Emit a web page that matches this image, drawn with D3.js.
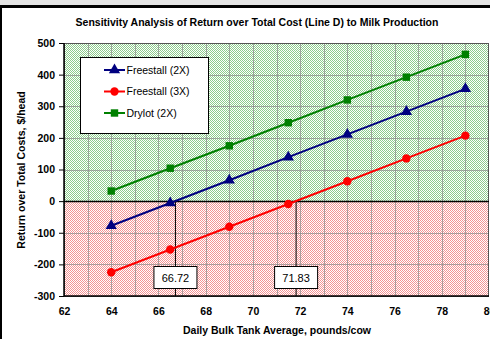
<!DOCTYPE html>
<html>
<head>
<meta charset="utf-8">
<script src="https://cdn.jsdelivr.net/npm/d3@7"></script>
<style>
  html, body { margin: 0; padding: 0; background: #fff; }
  svg { display: block; font-family: "Liberation Sans", Arial, sans-serif; }
</style>
</head>
<body>
<svg id="chart" width="490" height="339"></svg>
<script>
// Daily bulk tank average (lb/cow) at which each scenario was evaluated
const milkLevels = [64, 66.5, 69, 71.5, 74, 76.5, 79];

// Return over total cost ($/head) for each housing / milking scenario
const freestall2X = [-78, -6, 66, 139, 211, 283, 355];
const freestall3X = [-225, -153, -81, -9, 63, 135, 207];
const drylot2X = [32, 104, 175, 248, 320, 392, 464];

const seriesNames = ["Freestall (2X)", "Freestall (3X)", "Drylot (2X)"];

// Break-even milk levels (return = 0)
const breakEvens = [66.72, 71.83];

const xTicks = [62, 64, 66, 68, 70, 72, 74, 76, 78, 80];
const yTicks = [-300, -200, -100, 0, 100, 200, 300, 400, 500];

const title = "Sensitivity Analysis of Return over Total Cost (Line D) to Milk Production";
const xTitle = "Daily Bulk Tank Average, pounds/cow";
const yTitle = "Return over Total Costs, $/head";

const svg = d3.select("#chart");
const W = 490, H = 339;
const plot = { left: 64, right: 489, top: 43, bottom: 296 };

const x = d3.scaleLinear().domain([62, 80]).range([plot.left, plot.right]);
const y = d3.scaleLinear().domain([-300, 500]).range([plot.bottom, plot.top]);

// frame
svg.append("rect").attr("x", 0).attr("y", 0).attr("width", W).attr("height", 5).attr("fill", "#e3e3e3");
svg.append("rect").attr("x", 0).attr("y", 5).attr("width", W).attr("height", 3).attr("fill", "#000");
svg.append("rect").attr("x", 0).attr("y", 5).attr("width", 2).attr("height", H - 5).attr("fill", "#000");

// dotted fills for profit / loss zones
const defs = svg.append("defs");
function dots(id, color) {
  const p = defs.append("pattern").attr("id", id).attr("patternUnits", "userSpaceOnUse")
    .attr("width", 2).attr("height", 2);
  p.append("rect").attr("width", 2).attr("height", 2).attr("fill", "#fff");
  p.append("rect").attr("x", 0).attr("y", 0).attr("width", 1).attr("height", 1).attr("fill", color);
  p.append("rect").attr("x", 1).attr("y", 1).attr("width", 1).attr("height", 1).attr("fill", color);
}
dots("gain", "#8ccc8c");
dots("loss", "#f49494");

svg.append("rect").attr("x", plot.left).attr("y", y(500))
  .attr("width", plot.right - plot.left).attr("height", y(0) - y(500)).attr("fill", "url(#gain)");
svg.append("rect").attr("x", plot.left).attr("y", y(0))
  .attr("width", plot.right - plot.left).attr("height", y(-300) - y(0)).attr("fill", "url(#loss)");

// gridlines
const grid = svg.append("g").attr("stroke", "#8a8a8a").attr("stroke-opacity", 0.7).attr("stroke-width", 1);
d3.range(63, 80, 1).forEach(v => {
  grid.append("line").attr("x1", Math.round(x(v)) + 0.5).attr("x2", Math.round(x(v)) + 0.5)
    .attr("y1", plot.top).attr("y2", plot.bottom);
});
yTicks.slice(1, -1).forEach(v => {
  grid.append("line").attr("y1", Math.round(y(v)) + 0.5).attr("y2", Math.round(y(v)) + 0.5)
    .attr("x1", plot.left).attr("x2", plot.right);
});

// plot border
svg.append("rect").attr("x", plot.left + 0.5).attr("y", plot.top + 0.5)
  .attr("width", plot.right - plot.left - 1).attr("height", plot.bottom - plot.top)
  .attr("fill", "none").attr("stroke", "#555").attr("stroke-width", 1);

// zero line
svg.append("line").attr("x1", plot.left).attr("x2", plot.right)
  .attr("y1", Math.round(y(0)) + 0.5).attr("y2", Math.round(y(0)) + 0.5)
  .attr("stroke", "#000").attr("stroke-width", 1.5);

// break-even drop lines
breakEvens.forEach(v => {
  svg.append("line").attr("x1", x(v)).attr("x2", x(v)).attr("y1", y(0)).attr("y2", plot.bottom)
    .attr("stroke", "#000").attr("stroke-width", 1);
});

// axes
const yAxis = d3.axisLeft(y).tickValues(yTicks).tickFormat(d => String(d)).tickSize(5).tickPadding(4);
const xAxis = d3.axisBottom(x).tickValues(xTicks).tickFormat(d => String(d)).tickSize(4).tickPadding(8);
const gy = svg.append("g").attr("transform", `translate(${plot.left},0)`).call(yAxis);
const gx = svg.append("g").attr("transform", `translate(0,${plot.bottom})`).call(xAxis);
[gx, gy].forEach(g => {
  g.select(".domain").attr("stroke", "#000").attr("stroke-width", 1.5);
  g.selectAll(".tick line").attr("stroke", "#000");
  g.selectAll("text").attr("font-family", "Liberation Sans, Arial, sans-serif")
    .attr("font-size", 10.5).attr("font-weight", "bold").attr("fill", "#000");
});
gx.selectAll(".tick line").remove();
gx.select(".domain").attr("d", `M${plot.left},0H${plot.right}`);
gy.select(".domain").attr("d", `M0,${plot.bottom}V${plot.top}`);

// series
const series = [
  { name: seriesNames[0], values: freestall2X, color: "#000080", shape: d3.symbolTriangle, size: 55 },
  { name: seriesNames[1], values: freestall3X, color: "#ff0000", shape: d3.symbolCircle, size: 55 },
  { name: seriesNames[2], values: drylot2X, color: "#008000", shape: d3.symbolSquare, size: 55 }
];
const line = d3.line().x(d => x(d[0])).y(d => y(d[1]));
series.forEach(s => {
  const pts = milkLevels.map((m, i) => [m, s.values[i]]);
  svg.append("path").datum(pts).attr("d", line).attr("fill", "none")
    .attr("stroke", s.color).attr("stroke-width", 2);
  svg.append("g").selectAll("path").data(pts).join("path")
    .attr("d", d3.symbol(s.shape, s.size))
    .attr("transform", d => `translate(${x(d[0])},${y(d[1])})`)
    .attr("fill", s.color);
});

// break-even labels
breakEvens.forEach(v => {
  const cx = x(v), cy = 277;
  svg.append("rect").attr("x", cx - 21.5).attr("y", cy - 10.5).attr("width", 43).attr("height", 22)
    .attr("fill", "#fff").attr("stroke", "#000").attr("stroke-width", 1);
  svg.append("text").attr("x", cx).attr("y", cy + 4.5).attr("text-anchor", "middle")
    .attr("font-size", 11).attr("fill", "#000").text(v.toFixed(2));
});

// legend
const lg = svg.append("g");
lg.append("rect").attr("x", 80.5).attr("y", 57.5).attr("width", 128).attr("height", 76)
  .attr("fill", "#fff").attr("stroke", "#000").attr("stroke-width", 1);
series.forEach((s, i) => {
  const ly = 70 + i * 21.5;
  lg.append("line").attr("x1", 104).attr("x2", 125).attr("y1", ly).attr("y2", ly)
    .attr("stroke", s.color).attr("stroke-width", 2);
  lg.append("path").attr("d", d3.symbol(s.shape, s.size)).attr("transform", `translate(114.5,${ly})`)
    .attr("fill", s.color);
  lg.append("text").attr("x", 126.5).attr("y", ly + 3.5).attr("font-size", 10.5).attr("fill", "#000").text(s.name);
});

// titles
svg.append("text").attr("x", 257).attr("y", 26).attr("text-anchor", "middle")
  .attr("font-size", 10.5).attr("font-weight", "bold").text(title);
svg.append("text").attr("x", 277).attr("y", 334).attr("text-anchor", "middle")
  .attr("font-size", 10.5).attr("font-weight", "bold").text(xTitle);
svg.append("text").attr("transform", "translate(25,170) rotate(-90)").attr("text-anchor", "middle")
  .attr("font-size", 10.5).attr("font-weight", "bold").text(yTitle);
</script>
</body>
</html>
